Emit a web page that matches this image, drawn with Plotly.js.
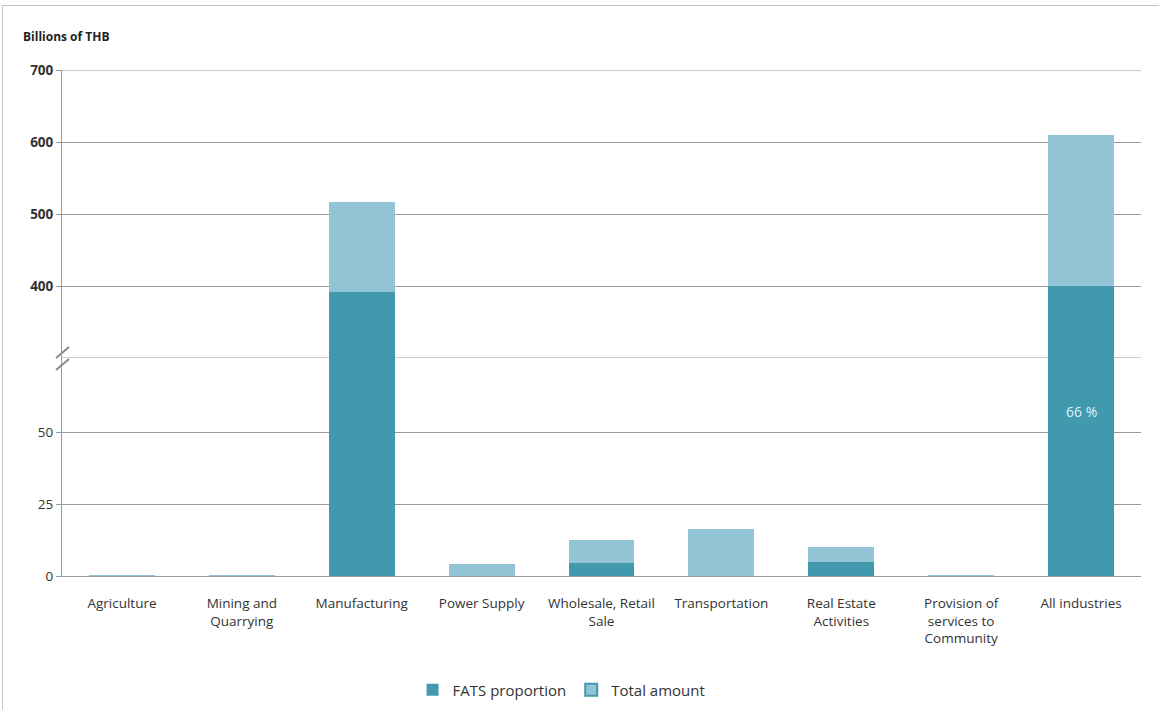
<!DOCTYPE html>
<html>
<head>
<meta charset="utf-8">
<script src="https://cdn.plot.ly/plotly-3.0.1.min.js"></script>
<style>
  html, body { margin: 0; padding: 0; background: #fff; }
  #wrap { position: relative; width: 1159px; height: 710px; }
  #chart { width: 1159px; height: 710px; }
  #frame { position: absolute; left: 2px; top: 5px; width: 1157px; height: 705px;
           border-top: 1px solid #c4c4c4; border-left: 1px solid #c4c4c4; pointer-events: none; box-sizing: border-box; }
</style>
</head>
<body>
<div id="wrap"><div id="chart"></div><div id="frame"></div></div>
<script>
// ---- data ----
const categories = [
  "Agriculture",
  "Mining and<br>Quarrying",
  "Manufacturing",
  "Power Supply",
  "Wholesale, Retail<br>Sale",
  "Transportation",
  "Real Estate<br>Activities",
  "Provision of<br>services to<br>Community",
  "All industries"
];
const fatsValues  = [0, 0, 392, 0, 4.5, 0, 5.0, 0, 400];
const totalValues = [0.5, 0.5, 516, 4.2, 12.4, 16.4, 10.2, 0.5, 610];
const lowerTicks = [0, 25, 50];
const upperTicks = [400, 500, 600, 700];
const seriesNames = ["FATS proportion", "Total amount"];
const shareLabel = "66 %";

// ---- derived ----
const remainder = totalValues.map((t, i) => t - fatsValues[i]);
const darkC = "#4298ad", lightC = "#93c4d6";
const lowerMax = 75.7, upperMin = 300, upperMax = 700;

function bar(y, color, yaxis) {
  return { type: "bar", x: categories, y: y, yaxis: yaxis, xaxis: "x",
           marker: { color: color }, showlegend: false, hoverinfo: "skip" };
}
const traces = [
  bar(fatsValues, darkC, "y"),
  bar(remainder, lightC, "y"),
  bar(fatsValues, darkC, "y2"),
  bar(remainder, lightC, "y2"),
  { type: "bar", x: [categories[0]], y: [null], name: seriesNames[0], yaxis: "y",
    marker: { color: darkC }, showlegend: true },
  { type: "bar", x: [categories[0]], y: [null], name: seriesNames[1], yaxis: "y",
    marker: { color: lightC, line: { color: darkC, width: 2 } }, showlegend: true }
];

const W = 1079, H = 506, L = 62, T = 70;
const px = v => (v - L) / W;
const py = v => (T + H - v) / H;
const lowerFrac = (576 - 358) / H;

const grid = "#9a9a9a";
const layout = {
  width: 1159, height: 710,
  margin: { l: 62, r: 18, t: 70, b: 134, autoexpand: false },
  paper_bgcolor: "#fff", plot_bgcolor: "#fff",
  barmode: "stack", bargap: 0.45,
  font: { family: "Open Sans, sans-serif", color: "#333" },
  xaxis: { type: "category", showline: true, linecolor: grid, linewidth: 1,
           ticks: "", ticklabelstandoff: 15, tickfont: { size: 13.5, color: "#333" }, fixedrange: true },
  yaxis: { domain: [0, lowerFrac], range: [0, lowerMax], tickvals: lowerTicks,
           showgrid: true, gridcolor: grid, zeroline: false, showline: true, linecolor: grid,
           ticks: "outside", ticklen: 5, tickcolor: grid,
           tickfont: { size: 13.5, color: "#333" } },
  yaxis2: { domain: [lowerFrac, 1], range: [upperMin, upperMax], tickvals: upperTicks,
            anchor: "x", showgrid: true, gridcolor: grid, zeroline: false, showline: true, linecolor: grid,
            ticks: "outside", ticklen: 5, tickcolor: grid,
            tickfont: { size: 13.5, color: "#333", weight: "bold" } },
  legend: { orientation: "h", x: 0.463, xanchor: "center", y: py(690), yanchor: "middle",
            font: { size: 15, color: "#333" }, traceorder: "normal" },
  shapes: [
    { type: "line", xref: "paper", yref: "y2", x0: 0, x1: 1, y0: upperMin, y1: upperMin,
      line: { color: grid, width: 1 }, layer: "below" },
    { type: "line", xref: "paper", yref: "y2", x0: 0, x1: 1, y0: upperMax, y1: upperMax,
      line: { color: grid, width: 1 }, layer: "below" },
    { type: "line", xref: "paper", yref: "paper", x0: px(56), x1: px(69), y0: py(358), y1: py(347),
      line: { color: "#8a8a8a", width: 2 } },
    { type: "line", xref: "paper", yref: "paper", x0: px(56), x1: px(69), y0: py(370), y1: py(359),
      line: { color: "#8a8a8a", width: 2 } }
  ],
  annotations: [
    { text: "<b>Billions of THB</b>", xref: "paper", yref: "paper", x: px(21), y: py(37),
      xanchor: "left", yanchor: "middle", showarrow: false, font: { size: 12, color: "#222" } },
    { text: shareLabel, xref: "x", yref: "y", x: categories[8], y: 57, showarrow: false,
      font: { size: 14, color: "#dff1f7" } }
  ]
};

Plotly.newPlot("chart", traces, layout, { staticPlot: true, displayModeBar: false });
</script>
</body>
</html>
